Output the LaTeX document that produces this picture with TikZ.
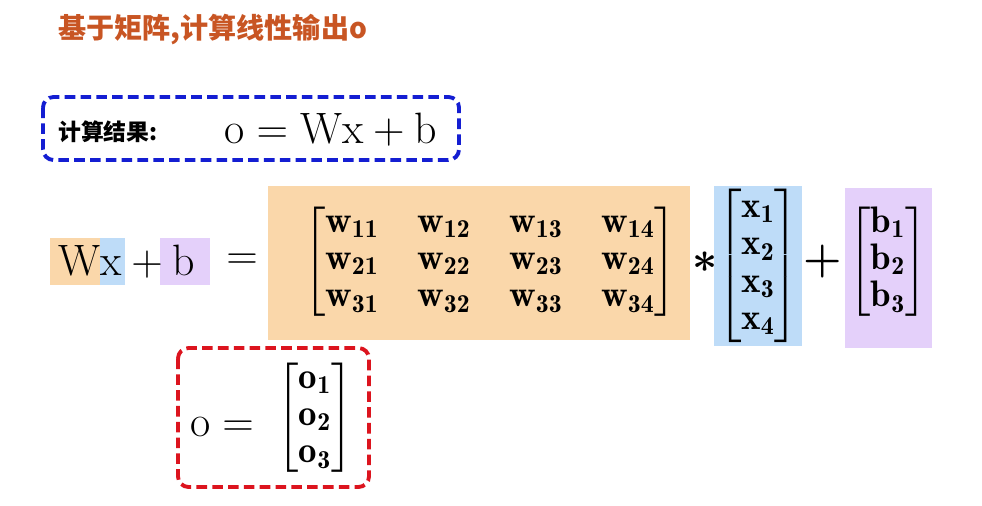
\documentclass[tikz,border=0pt]{standalone}
\usepackage{amsmath}
\usepackage{fontspec}
\newfontfamily\cjk{Noto Sans CJK SC}
\usetikzlibrary{positioning}
\definecolor{ktitle}{RGB}{200,85,35}
\definecolor{korange}{RGB}{250,215,170}
\definecolor{kblue}{RGB}{190,220,248}
\definecolor{kpurple}{RGB}{228,208,250}
\definecolor{kdblue}{RGB}{20,30,210}
\definecolor{kred}{RGB}{220,20,30}
\tikzset{
  kbox/.style={line width=2.2pt,dash pattern=on 6pt off 3pt,rounded corners=6pt},
  kmath/.style={inner sep=0pt,font=\fontsize{21}{25}\selectfont},
  kbig/.style={inner sep=0pt,font=\fontsize{25}{30}\selectfont},
}
\newcommand{\kb}[2]{\mathbf{#1}_{\mathbf{#2}}}
\begin{document}
\begin{tikzpicture}[x=0.02cm,y=-0.02cm]
\useasboundingbox (0,0) rectangle (982,505);
\pgfmathsetmacro{\krow}{262}
% title
\node[anchor=west,text=ktitle,font=\cjk\bfseries\fontsize{16}{20}\selectfont] (title) at (52,30) {基于矩阵,计算线性输出o};
% result box
\draw[kbox,kdblue] (43,97) rectangle (459,160);
\node[anchor=west,font=\cjk\bfseries\fontsize{13}{16}\selectfont] (reslb) at (52,132) {计算结果:};
\node[kbig,anchor=west] (res) at (224,130) {$\mathrm{o}=\mathrm{W}\mathrm{x}+\mathrm{b}$};
% highlights
\fill[korange] (268,186) rectangle (690,340);
\fill[kblue] (714,186) rectangle (802,346);
\fill[kpurple] (845,188) rectangle (932,348);
\fill[korange] (50,238) rectangle (100,285);
\fill[kblue] (100,238) rectangle (125,285);
\fill[kpurple] (160,238) rectangle (210,285);
\node[kbig,anchor=west] (lhs) at (58,\krow) {$\mathrm{W}\mathrm{x}+\mathrm{b}$};
\node[kbig] (eq) at (242,\krow) {$=$};
\renewcommand{\arraystretch}{0.85}
\node[kmath] (wmat) at (490,\krow) {\setlength\arraycolsep{11pt}$\begin{bmatrix}
\kb{w}{11}&\kb{w}{12}&\kb{w}{13}&\kb{w}{14}\\
\kb{w}{21}&\kb{w}{22}&\kb{w}{23}&\kb{w}{24}\\
\kb{w}{31}&\kb{w}{32}&\kb{w}{33}&\kb{w}{34}\end{bmatrix}$};
\node[kbig] (mul) at (705,\krow) {$\boldsymbol{*}$};
\node[kmath] (xvec) at (758,266) {$\begin{bmatrix}\kb{x}{1}\\\kb{x}{2}\\\kb{x}{3}\\\kb{x}{4}\end{bmatrix}$};
\node[kbig] (plus) at (823,\krow) {\textbf{+}};
\node[kmath] (bvec) at (888,\krow) {$\begin{bmatrix}\kb{b}{1}\\\kb{b}{2}\\\kb{b}{3}\end{bmatrix}$};
% output box
\draw[kbox,kred] (178,348) rectangle (369,487);
\node[kbig] (olhs) at (222,427) {$\mathrm{o}=$};
\node[kmath] (ovec) at (315,418) {$\begin{bmatrix}\kb{o}{1}\\\kb{o}{2}\\\kb{o}{3}\end{bmatrix}$};
\end{tikzpicture}
\end{document}
